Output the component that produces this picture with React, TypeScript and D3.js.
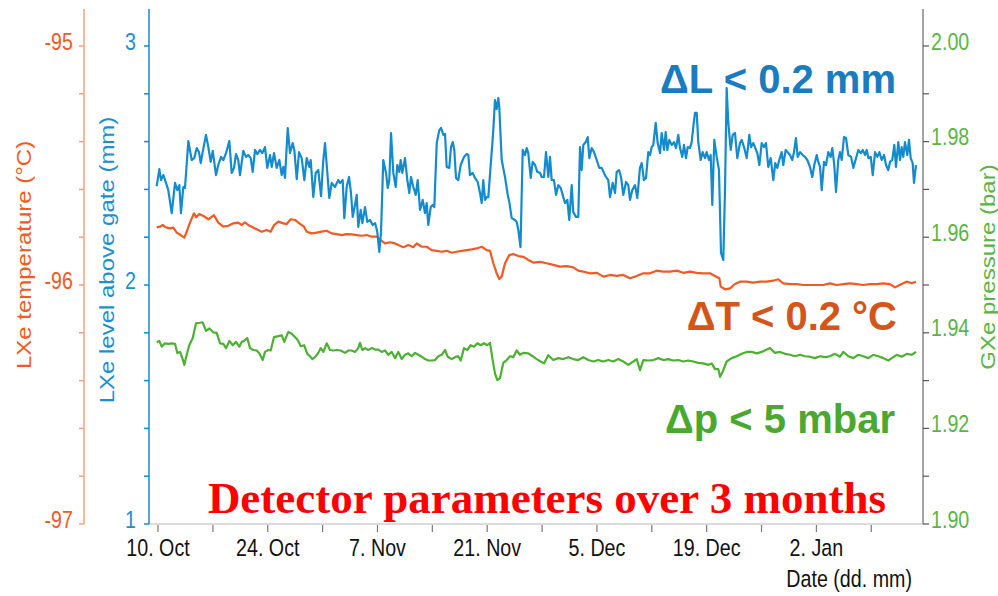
import React from "react";
import * as d3 from "d3";

// ---- data: day offsets from 10 Oct and the measured values ----
const levelDays = [
  -0.17, 0.17, 0.38, 0.68, 1.02, 1.31, 1.75, 2.17, 2.46, 2.72,
  2.93, 3.23, 3.44, 3.87, 4.30, 4.63, 4.94, 5.23, 5.45, 5.70,
  6.12, 6.42, 6.72, 6.98, 7.40, 7.69, 8.04, 8.33, 8.68, 9.10,
  9.40, 9.70, 9.95, 10.24, 10.46, 10.88, 11.23, 11.52, 11.83, 12.08,
  12.38, 12.67, 13.01, 13.31, 13.65, 13.94, 14.29, 14.51, 14.80, 15.14,
  15.48, 15.78, 15.99, 16.20, 16.55, 16.84, 17.18, 17.39, 17.70, 17.99,
  18.33, 18.67, 18.97, 19.30, 19.48, 19.81, 20.12, 20.45, 20.80, 21.09,
  21.31, 21.60, 21.85, 22.16, 22.58, 23.00, 23.22, 23.56, 23.77, 24.07,
  24.37, 24.62, 24.84, 25.13, 25.35, 25.55, 25.86, 26.07, 26.41, 26.70,
  27.05, 27.39, 27.69, 27.98, 28.23, 28.45, 28.74, 29.09, 29.31, 29.51,
  29.73, 30.02, 30.33, 30.53, 30.79, 30.96, 31.17, 31.51, 31.81, 32.06,
  32.28, 32.57, 32.88, 33.13, 33.43, 33.77, 34.06, 34.28, 34.48, 34.79,
  35.05, 35.25, 35.56, 35.89, 36.11, 36.40, 36.62, 36.83, 37.16, 37.38,
  37.60, 37.80, 38.02, 38.31, 38.62, 39.04, 39.38, 39.59, 39.80, 40.15,
  40.44, 40.79, 41.08, 41.30, 41.50, 41.72, 41.94, 42.14, 42.78, 42.99,
  43.21, 43.42, 43.54, 43.85, 44.27, 44.62, 44.82, 45.13, 45.55, 45.76,
  45.97, 46.25, 46.53, 46.82, 47.04, 47.24, 47.55, 47.80, 48.10, 48.39,
  48.74, 48.95, 49.25, 49.50, 49.80, 50.01, 50.23, 50.52, 50.78, 51.07,
  51.38, 51.63, 51.92, 52.22, 52.47, 52.78, 52.98, 53.33, 53.62, 53.84,
  54.05, 54.26, 54.57, 54.82, 55.03, 55.33, 55.63, 55.97, 56.30, 56.61,
  56.90, 57.16, 57.45, 57.67, 58.01, 58.31, 58.52, 58.82, 59.07, 59.36,
  59.71, 60.00, 60.22, 60.51, 60.86, 61.15, 61.49, 61.71, 62.00, 62.26,
  62.55, 62.77, 62.99, 63.19, 63.50, 63.75, 64.05, 64.26, 64.56, 64.77,
  64.98, 65.23, 65.54, 65.83, 66.09, 66.38, 66.60, 66.89, 67.11, 67.36,
  67.58, 67.87, 68.09, 68.29, 68.51, 68.73, 68.93, 69.24, 69.49, 69.79,
  70.00, 70.30, 70.51, 70.72, 70.97, 71.28, 71.57, 71.83, 72.12, 72.34,
  72.55, 72.76, 73.07, 73.32, 73.61, 73.91, 74.25, 74.47, 74.76, 75.11,
  75.44, 75.66, 75.95, 76.30, 76.46, 76.72, 77.02, 77.32, 77.57, 77.86,
  78.17, 78.50, 78.75, 79.01, 79.26, 79.57, 79.77, 80.08, 80.33, 80.63,
  80.92, 81.14, 81.39, 81.61, 81.91, 82.25, 82.54, 82.84, 83.18, 83.47,
  83.73, 84.04, 84.24, 84.46, 84.68, 84.97, 85.23, 85.52, 85.82, 86.03,
  86.28, 86.50, 86.79, 87.01, 87.23, 87.52, 87.78, 88.07, 88.42, 88.71,
  89.06, 89.35, 89.66, 89.91, 90.21, 90.42, 90.63, 90.93, 91.19, 91.48,
  91.77, 92.03, 92.33, 92.63, 92.88, 93.17, 93.39, 93.68, 93.94, 94.15,
  94.45, 94.67, 94.88, 95.09, 95.30, 95.60, 95.81, 96.03, 96.28, 96.45,
  96.71,
];

const levelMm = [
  2.414, 2.485, 2.439, 2.460, 2.427, 2.397, 2.301, 2.427, 2.397, 2.418,
  2.301, 2.410, 2.406, 2.602, 2.523, 2.531, 2.573, 2.556, 2.510, 2.556,
  2.628, 2.577, 2.515, 2.561, 2.460, 2.502, 2.536, 2.523, 2.552, 2.602,
  2.469, 2.490, 2.548, 2.523, 2.460, 2.561, 2.536, 2.544, 2.531, 2.473,
  2.565, 2.548, 2.565, 2.552, 2.577, 2.490, 2.544, 2.494, 2.552, 2.490,
  2.523, 2.460, 2.494, 2.448, 2.657, 2.552, 2.594, 2.565, 2.443, 2.556,
  2.531, 2.439, 2.531, 2.494, 2.523, 2.368, 2.469, 2.481, 2.372, 2.523,
  2.594, 2.469, 2.364, 2.427, 2.410, 2.439, 2.427, 2.439, 2.280, 2.410,
  2.452, 2.385, 2.285, 2.335, 2.377, 2.243, 2.314, 2.259, 2.326, 2.264,
  2.272, 2.251, 2.259, 2.222, 2.138, 2.218, 2.523, 2.469, 2.406, 2.439,
  2.636, 2.469, 2.410, 2.502, 2.473, 2.523, 2.469, 2.531, 2.439, 2.385,
  2.452, 2.410, 2.377, 2.439, 2.314, 2.356, 2.301, 2.343, 2.251, 2.326,
  2.335, 2.326, 2.594, 2.648, 2.657, 2.628, 2.632, 2.494, 2.490, 2.577,
  2.598, 2.565, 2.448, 2.439, 2.502, 2.536, 2.548, 2.544, 2.460, 2.469,
  2.448, 2.431, 2.385, 2.343, 2.439, 2.356, 2.368, 2.368, 2.648, 2.774,
  2.736, 2.782, 2.745, 2.523, 2.452, 2.377, 2.347, 2.280, 2.272, 2.264,
  2.230, 2.159, 2.565, 2.544, 2.573, 2.552, 2.448, 2.515, 2.502, 2.473,
  2.469, 2.452, 2.452, 2.556, 2.452, 2.536, 2.439, 2.439, 2.377, 2.418,
  2.406, 2.377, 2.343, 2.356, 2.272, 2.418, 2.305, 2.285, 2.285, 2.577,
  2.481, 2.586, 2.598, 2.619, 2.531, 2.573, 2.556, 2.523, 2.490, 2.490,
  2.469, 2.452, 2.439, 2.368, 2.427, 2.385, 2.473, 2.481, 2.452, 2.377,
  2.431, 2.418, 2.356, 2.397, 2.418, 2.364, 2.490, 2.510, 2.439, 2.448,
  2.556, 2.544, 2.577, 2.586, 2.678, 2.594, 2.552, 2.636, 2.565, 2.640,
  2.565, 2.607, 2.586, 2.598, 2.573, 2.628, 2.573, 2.536, 2.586, 2.531,
  2.577, 2.573, 2.598, 2.661, 2.720, 2.720, 2.598, 2.523, 2.556, 2.531,
  2.556, 2.523, 2.544, 2.335, 2.607, 2.536, 2.481, 2.134, 2.105, 2.397,
  2.824, 2.678, 2.565, 2.628, 2.636, 2.531, 2.594, 2.607, 2.577, 2.531,
  2.628, 2.577, 2.594, 2.565, 2.552, 2.502, 2.594, 2.577, 2.594, 2.494,
  2.531, 2.439, 2.510, 2.490, 2.523, 2.556, 2.502, 2.565, 2.556, 2.544,
  2.523, 2.556, 2.615, 2.536, 2.556, 2.544, 2.536, 2.523, 2.494, 2.452,
  2.502, 2.544, 2.515, 2.494, 2.397, 2.515, 2.502, 2.556, 2.536, 2.573,
  2.502, 2.389, 2.523, 2.556, 2.523, 2.619, 2.615, 2.544, 2.536, 2.490,
  2.531, 2.565, 2.552, 2.565, 2.544, 2.565, 2.531, 2.536, 2.460, 2.556,
  2.536, 2.556, 2.523, 2.544, 2.502, 2.481, 2.515, 2.523, 2.586, 2.494,
  2.598, 2.523, 2.577, 2.536, 2.598, 2.544, 2.607, 2.531, 2.510, 2.427,
  2.502,
];

const tempDays = [
  -0.17, 0.26, 0.60, 1.02, 1.53, 1.95, 2.39, 2.90, 3.36, 3.66,
  4.08, 4.59, 4.85, 5.27, 5.78, 6.42, 7.14, 7.69, 8.33, 8.97,
  9.61, 10.24, 10.68, 11.10, 11.52, 11.95, 12.59, 13.23, 13.87, 14.38,
  14.80, 15.35, 15.99, 16.42, 16.93, 17.48, 18.03, 18.63, 18.97, 19.61,
  20.25, 20.89, 21.52, 22.16, 22.80, 23.44, 24.07, 24.71, 25.35, 25.99,
  26.63, 27.27, 27.91, 28.41, 28.96, 29.60, 30.24, 30.87, 31.30, 31.93,
  32.57, 33.01, 33.64, 34.28, 34.92, 35.56, 36.19, 36.83, 37.47, 38.11,
  38.75, 39.38, 40.02, 40.66, 41.30, 41.94, 42.36, 42.78, 43.21, 43.54,
  43.85, 44.27, 44.82, 45.33, 45.97, 46.61, 47.24, 47.88, 48.74, 49.59,
  50.43, 51.29, 52.14, 52.98, 53.62, 54.26, 55.11, 55.97, 56.81, 57.67,
  58.52, 59.36, 60.22, 61.07, 61.92, 62.77, 63.62, 64.47, 65.32, 66.18,
  67.02, 67.87, 68.73, 69.58, 70.43, 71.07, 71.62, 71.80, 72.34, 72.98,
  73.61, 74.25, 75.11, 75.95, 76.80, 77.66, 78.50, 79.14, 79.77, 80.63,
  81.48, 82.33, 83.18, 84.04, 84.88, 85.73, 86.59, 87.43, 88.28, 89.14,
  89.98, 90.84, 91.69, 92.53, 93.39, 94.03, 94.88, 95.52, 96.16, 96.71,
];

const tempC = [
  -95.759, -95.756, -95.749, -95.759, -95.763, -95.760, -95.781, -95.791, -95.802, -95.777,
  -95.739, -95.700, -95.717, -95.703, -95.711, -95.725, -95.708, -95.739, -95.756, -95.752,
  -95.742, -95.739, -95.749, -95.738, -95.749, -95.756, -95.767, -95.777, -95.770, -95.777,
  -95.749, -95.735, -95.742, -95.745, -95.725, -95.728, -95.742, -95.756, -95.777, -95.784,
  -95.781, -95.777, -95.773, -95.784, -95.787, -95.791, -95.787, -95.788, -95.791, -95.794,
  -95.791, -95.798, -95.798, -95.812, -95.826, -95.821, -95.826, -95.836, -95.842, -95.833,
  -95.842, -95.826, -95.840, -95.840, -95.854, -95.857, -95.861, -95.857, -95.865, -95.861,
  -95.857, -95.854, -95.851, -95.847, -95.840, -95.854, -95.857, -95.909, -95.951, -95.975,
  -95.965, -95.909, -95.875, -95.870, -95.879, -95.882, -95.895, -95.906, -95.903, -95.909,
  -95.916, -95.923, -95.921, -95.926, -95.940, -95.944, -95.951, -95.949, -95.965, -95.958,
  -95.962, -95.958, -95.972, -95.962, -95.951, -95.951, -95.940, -95.944, -95.944, -95.940,
  -95.949, -95.944, -95.949, -95.951, -95.951, -95.962, -95.972, -96.007, -96.018, -96.014,
  -95.996, -95.986, -95.986, -95.990, -95.986, -95.986, -95.982, -95.976, -95.993, -95.996,
  -95.996, -96.000, -96.000, -96.000, -96.000, -95.993, -96.000, -95.996, -95.993, -95.996,
  -96.000, -95.996, -95.996, -95.993, -95.996, -96.010, -95.996, -95.986, -95.993, -95.986,
];

const pressureDays = [
  -0.17, 0.17, 0.47, 0.89, 1.31, 1.75, 2.17, 2.46, 2.81, 3.10,
  3.36, 3.66, 3.99, 4.43, 4.85, 5.36, 5.70, 6.12, 6.55, 7.06,
  7.49, 7.91, 8.33, 8.68, 9.10, 9.53, 9.95, 10.37, 10.68, 10.97,
  11.39, 11.74, 12.16, 12.59, 12.92, 13.36, 13.65, 14.07, 14.38, 14.80,
  15.35, 15.78, 16.11, 16.62, 17.06, 17.48, 17.82, 18.21, 18.63, 19.05,
  19.39, 19.69, 20.03, 20.45, 20.76, 21.09, 21.52, 21.94, 22.37, 22.80,
  23.31, 23.86, 24.28, 24.71, 25.13, 25.55, 25.77, 26.06, 26.41, 26.83,
  27.26, 27.69, 28.11, 28.54, 28.96, 29.38, 29.82, 30.24, 30.66, 31.09,
  31.51, 31.93, 32.37, 32.79, 33.21, 33.64, 34.06, 34.48, 34.92, 35.34,
  35.76, 36.19, 36.62, 36.96, 37.47, 37.89, 38.31, 38.62, 39.04, 39.46,
  39.89, 40.32, 40.74, 41.17, 41.59, 42.01, 42.36, 42.70, 42.99, 43.29,
  43.63, 44.05, 44.49, 44.91, 45.33, 45.76, 46.18, 46.61, 47.24, 47.80,
  48.31, 48.82, 49.25, 49.79, 50.43, 51.07, 51.71, 52.35, 52.98, 53.62,
  54.26, 54.90, 55.54, 56.17, 56.81, 57.45, 58.09, 58.73, 59.36, 60.00,
  60.64, 61.07, 61.49, 61.92, 62.55, 63.19, 63.83, 64.47, 65.10, 65.74,
  66.38, 67.02, 67.66, 68.29, 68.93, 69.57, 70.21, 70.64, 71.07, 71.49,
  71.71, 72.05, 72.55, 73.19, 73.83, 74.47, 75.11, 75.74, 76.38, 77.02,
  77.66, 78.08, 78.72, 79.35, 79.99, 80.63, 81.27, 81.91, 82.54, 83.18,
  83.82, 84.46, 85.10, 85.73, 86.37, 87.01, 87.43, 88.07, 88.71, 89.35,
  89.98, 90.63, 91.26, 91.90, 92.54, 93.17, 93.61, 94.24, 94.88, 95.52,
  96.16, 96.71,
];

const pressureBar = [
  1.9380, 1.9383, 1.9371, 1.9378, 1.9377, 1.9378, 1.9377, 1.9358, 1.9360, 1.9347,
  1.9333, 1.9354, 1.9374, 1.9389, 1.9420, 1.9421, 1.9422, 1.9404, 1.9409, 1.9401,
  1.9400, 1.9378, 1.9377, 1.9368, 1.9383, 1.9374, 1.9381, 1.9371, 1.9381, 1.9383,
  1.9389, 1.9368, 1.9364, 1.9363, 1.9357, 1.9343, 1.9360, 1.9364, 1.9363, 1.9391,
  1.9393, 1.9395, 1.9381, 1.9402, 1.9398, 1.9391, 1.9385, 1.9372, 1.9374, 1.9356,
  1.9351, 1.9345, 1.9349, 1.9358, 1.9368, 1.9360, 1.9378, 1.9364, 1.9363, 1.9364,
  1.9363, 1.9358, 1.9363, 1.9363, 1.9360, 1.9368, 1.9379, 1.9364, 1.9368, 1.9364,
  1.9368, 1.9365, 1.9365, 1.9360, 1.9363, 1.9354, 1.9360, 1.9347, 1.9360, 1.9345,
  1.9354, 1.9357, 1.9351, 1.9358, 1.9354, 1.9350, 1.9345, 1.9342, 1.9342, 1.9343,
  1.9351, 1.9354, 1.9364, 1.9350, 1.9345, 1.9349, 1.9351, 1.9342, 1.9368, 1.9364,
  1.9374, 1.9371, 1.9378, 1.9374, 1.9378, 1.9374, 1.9379, 1.9343, 1.9315, 1.9301,
  1.9305, 1.9337, 1.9343, 1.9351, 1.9349, 1.9363, 1.9354, 1.9358, 1.9357, 1.9351,
  1.9345, 1.9340, 1.9336, 1.9353, 1.9343, 1.9347, 1.9345, 1.9349, 1.9345, 1.9343,
  1.9349, 1.9343, 1.9340, 1.9343, 1.9340, 1.9343, 1.9340, 1.9345, 1.9340, 1.9333,
  1.9340, 1.9345, 1.9322, 1.9343, 1.9342, 1.9343, 1.9347, 1.9343, 1.9345, 1.9342,
  1.9343, 1.9340, 1.9342, 1.9340, 1.9337, 1.9336, 1.9333, 1.9336, 1.9324, 1.9324,
  1.9308, 1.9319, 1.9340, 1.9347, 1.9351, 1.9356, 1.9360, 1.9360, 1.9357, 1.9360,
  1.9365, 1.9368, 1.9358, 1.9360, 1.9356, 1.9354, 1.9351, 1.9354, 1.9351, 1.9350,
  1.9347, 1.9351, 1.9349, 1.9351, 1.9356, 1.9350, 1.9360, 1.9351, 1.9347, 1.9354,
  1.9351, 1.9347, 1.9354, 1.9351, 1.9347, 1.9342, 1.9347, 1.9354, 1.9350, 1.9356,
  1.9354, 1.9360,
];

// ---- axes ----
const weekTickDays = [0, 7, 14, 21, 28, 35, 42, 49, 56, 63, 70, 77, 84, 91];
const dateTickLabels = ["10. Oct", "24. Oct", "7. Nov", "21. Nov", "5. Dec", "19. Dec", "2. Jan"];
const tempTicks = [-97, -96, -95];
const levelTicks = [1, 2, 3];
const pressureTicks = [1.9, 1.92, 1.94, 1.96, 1.98, 2.0];

const START = Date.UTC(2016, 9, 10);
const DAY = 86400000;

const W = 998;
const H = 596;
const left = 149;
const right = 923;
const top = 46;
const bottom = 524;
const axisTop = 9;
const tempAxisX = 84;

const C = {
  temp: "#f15a24",
  tempAxis: "#f6a27e",
  level: "#138bcc",
  levelText: "#1b8fd0",
  pressure: "#4cb032",
  pressureText: "#5ab446",
  dL: "#1a7bbf",
  dT: "#d2561a",
  dp: "#4aa830",
};

const sans = "'Liberation Sans', Arial, Helvetica, sans-serif";
const serif = "'Liberation Serif', 'Times New Roman', serif";
const SQ = 0.82;

const x = d3
  .scaleUtc()
  .domain([new Date(START - 1.15 * DAY), new Date(START + 97.6 * DAY)])
  .range([left, right]);
const yTemp = d3.scaleLinear().domain([-97, -95]).range([bottom, top]);
const yLevel = d3.scaleLinear().domain([1, 3]).range([bottom, top]);
const yPress = d3.scaleLinear().domain([1.9, 2.0]).range([bottom, top]);

const toDate = (d: number) => new Date(START + d * DAY);

function seriesPath(days: number[], vals: number[], y: d3.ScaleLinear<number, number>) {
  const pts = days.map((d, i) => [toDate(d), vals[i]] as [Date, number]);
  return (
    d3
      .line<[Date, number]>()
      .x((p) => x(p[0]))
      .y((p) => y(p[1]))(pts) || ""
  );
}

function NarrowText(props: {
  x: number;
  y: number;
  anchor: string;
  fill: string;
  children: React.ReactNode;
  size?: number;
}) {
  return (
    <text
      transform={`translate(${props.x},${props.y}) scale(${SQ},1)`}
      textAnchor={props.anchor}
      fill={props.fill}
      fontSize={props.size ?? 24}
      fontFamily={sans}
    >
      {props.children}
    </text>
  );
}

function VerticalTitle(props: { x: number; y: number; fill: string; children: React.ReactNode }) {
  return (
    <text
      transform={`translate(${props.x},${props.y}) rotate(-90) scale(1,${SQ})`}
      textAnchor="middle"
      dominantBaseline="central"
      fill={props.fill}
      fontSize={24}
      fontFamily={sans}
    >
      {props.children}
    </text>
  );
}

export default function App() {
  const minor = (lo: number, hi: number, n: number) => d3.range(n + 1).map((i) => lo + ((hi - lo) * i) / n);
  const tempMinor = minor(-97, -95, 10);
  const levelMinor = minor(1, 3, 10);
  const pressMinor = minor(1.9, 2.0, 10);
  const fmtDate = d3.utcFormat("%-d. %b");

  return (
    <svg
      width={W}
      height={H}
      viewBox={`0 0 ${W} ${H}`}
      style={{ position: "absolute", left: 0, top: 0, background: "#fff" }}
    >
      {/* bottom date axis */}
      <line x1={left} x2={right} y1={bottom} y2={bottom} stroke="#cfcfcf" strokeWidth={1.5} />
      {weekTickDays.map((d) => (
        <line
          key={"xt" + d}
          x1={x(toDate(d))}
          x2={x(toDate(d))}
          y1={bottom + 1}
          y2={bottom + 8}
          stroke="#7a7a7a"
          strokeWidth={1.2}
        />
      ))}
      {weekTickDays
        .filter((d) => d % 14 === 0)
        .map((d, i) => (
          <NarrowText key={"xl" + d} x={x(toDate(d))} y={556} anchor="middle" fill="#111">
            {dateTickLabels[i] ?? fmtDate(toDate(d))}
          </NarrowText>
        ))}
      <NarrowText x={912} y={587} anchor="end" fill="#111">
        Date (dd. mm)
      </NarrowText>

      {/* temperature axis */}
      <line x1={tempAxisX} x2={tempAxisX} y1={axisTop} y2={bottom} stroke={C.tempAxis} strokeWidth={1.5} />
      {tempMinor.map((v, i) => (
        <line key={"tt" + i} x1={tempAxisX - 5} x2={tempAxisX} y1={yTemp(v)} y2={yTemp(v)} stroke={C.tempAxis} strokeWidth={1.5} />
      ))}
      {tempTicks.map((v) => (
        <NarrowText key={"tl" + v} x={73} y={yTemp(v) + 3.5} anchor="end" fill={C.temp}>
          {String(v)}
        </NarrowText>
      ))}
      <VerticalTitle x={24} y={255} fill={C.temp}>
        LXe temperature (°C)
      </VerticalTitle>

      {/* level axis */}
      <line x1={left} x2={left} y1={axisTop} y2={bottom} stroke={C.level} strokeWidth={1.5} />
      {levelMinor.map((v, i) => (
        <line key={"lt" + i} x1={left - 5} x2={left} y1={yLevel(v)} y2={yLevel(v)} stroke={C.level} strokeWidth={1.5} />
      ))}
      {levelTicks.map((v) => (
        <NarrowText key={"ll" + v} x={136} y={yLevel(v) + 3.5} anchor="end" fill={C.levelText}>
          {String(v)}
        </NarrowText>
      ))}
      <VerticalTitle x={107} y={260} fill={C.levelText}>
        LXe level above gate (mm)
      </VerticalTitle>

      {/* pressure axis */}
      <line x1={right} x2={right} y1={axisTop} y2={bottom} stroke="#858585" strokeWidth={1.5} />
      {pressMinor.map((v, i) => (
        <line key={"pt" + i} x1={right} x2={right + 6} y1={yPress(v)} y2={yPress(v)} stroke="#555" strokeWidth={1.2} />
      ))}
      {pressureTicks.map((v) => (
        <NarrowText key={"pl" + v} x={931} y={yPress(v) + 3.5} anchor="start" fill={C.pressureText}>
          {v.toFixed(2)}
        </NarrowText>
      ))}
      <VerticalTitle x={988} y={267} fill={C.pressureText}>
        GXe pressure (bar)
      </VerticalTitle>

      {/* series */}
      <path d={seriesPath(pressureDays, pressureBar, yPress)} fill="none" stroke={C.pressure} strokeWidth={2.2} strokeLinejoin="round" />
      <path d={seriesPath(tempDays, tempC, yTemp)} fill="none" stroke={C.temp} strokeWidth={2.2} strokeLinejoin="round" />
      <path d={seriesPath(levelDays, levelMm, yLevel)} fill="none" stroke={C.level} strokeWidth={2.2} strokeLinejoin="round" />

      {/* annotations */}
      <text x={896} y={93} textAnchor="end" fill={C.dL} fontSize={40} fontWeight="bold" fontFamily={sans}>
        ΔL &lt; 0.2 mm
      </text>
      <text x={897} y={330} textAnchor="end" fill={C.dT} fontSize={40} fontWeight="bold" fontFamily={sans}>
        ΔT &lt; 0.2 °C
      </text>
      <text x={895} y={433} textAnchor="end" fill={C.dp} fontSize={40} fontWeight="bold" fontFamily={sans}>
        Δp &lt; 5 mbar
      </text>
      <text x={886} y={513} textAnchor="end" fill="#ff0000" fontSize={45} fontWeight="bold" fontFamily={serif}>
        Detector parameters over 3 months
      </text>
    </svg>
  );
}
